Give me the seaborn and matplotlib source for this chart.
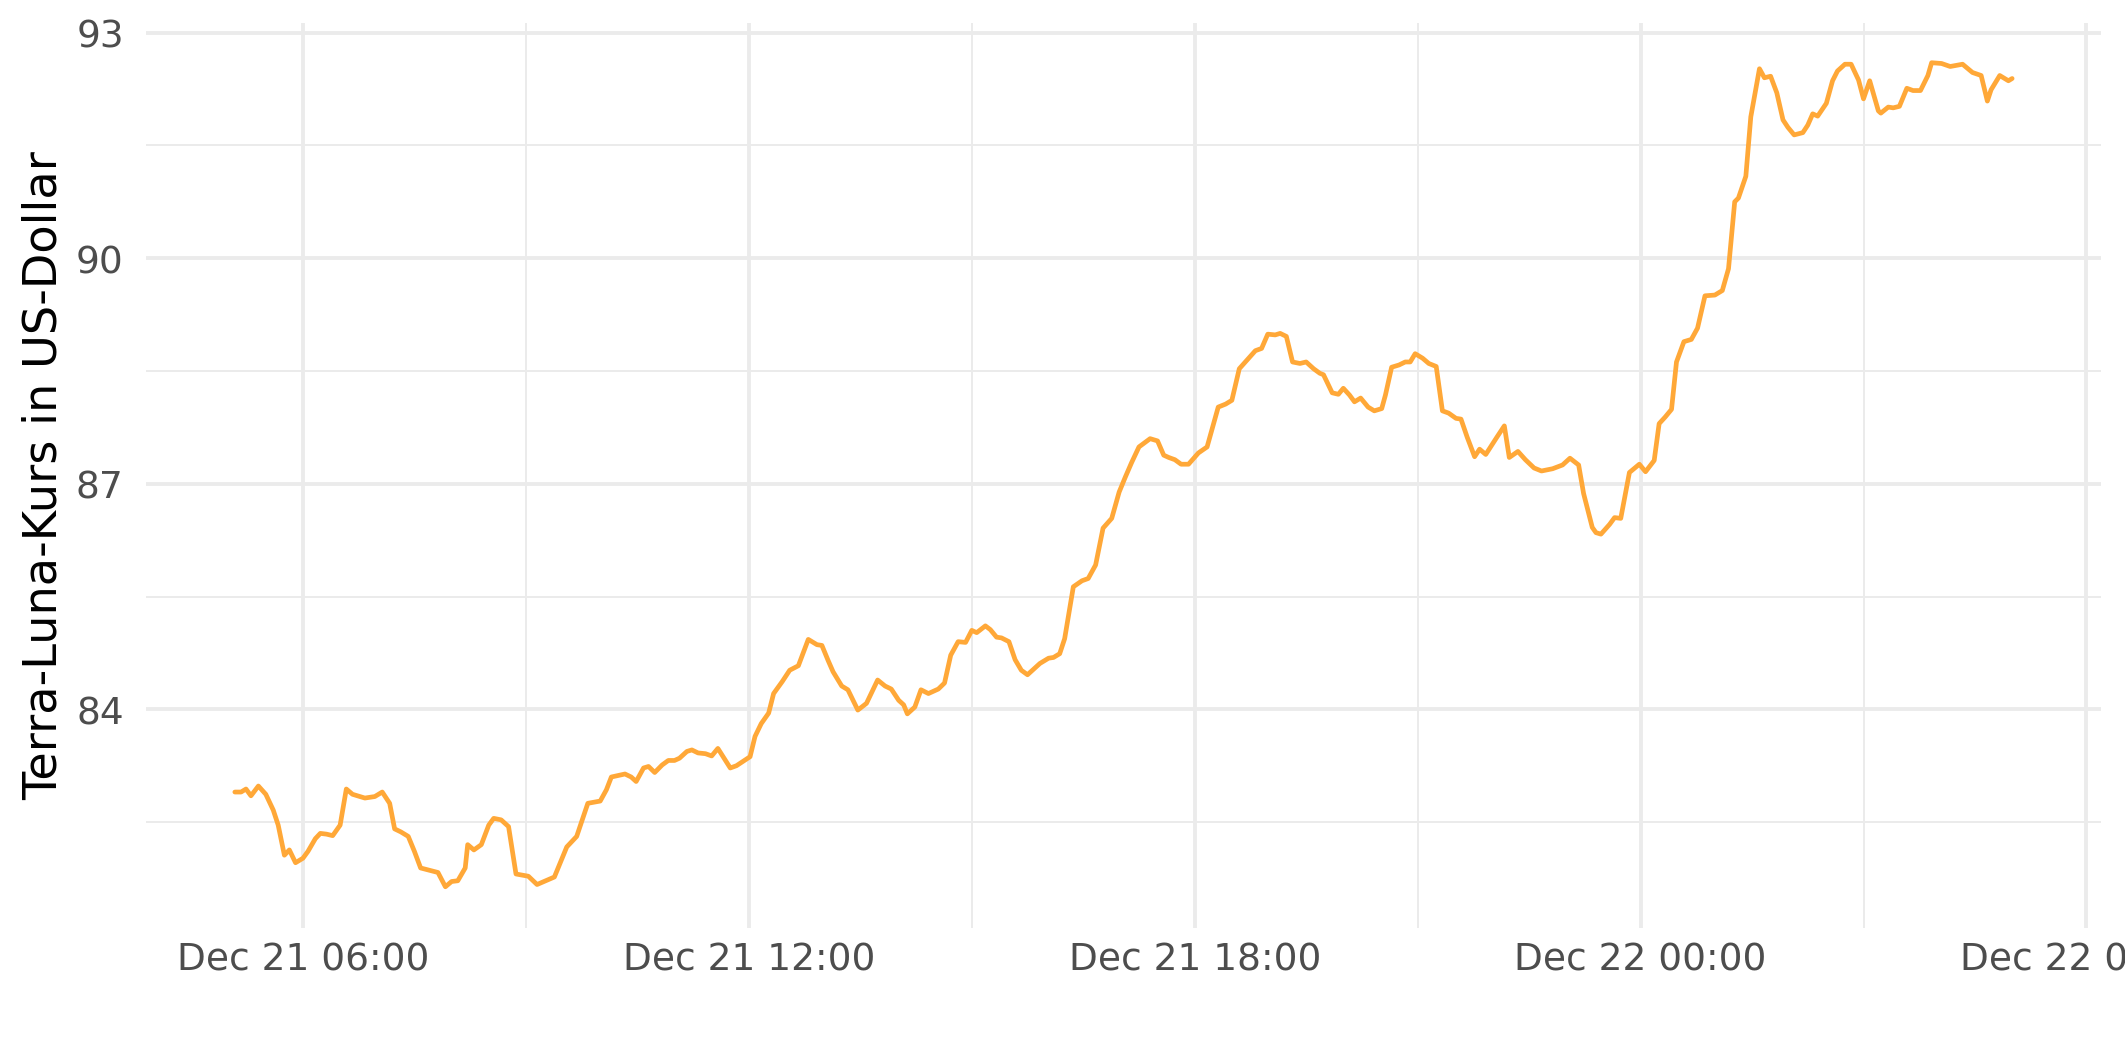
import pandas as pd
import numpy as np
import matplotlib
matplotlib.use("Agg")
import matplotlib.pyplot as plt
import matplotlib.dates as mdates
from matplotlib.ticker import MultipleLocator
import seaborn as sns

# Zeitpunkte (Dez 2021) und Terra-Luna-Kurs in USD
zeit = [
    "12-21 05:05", "12-21 05:10", "12-21 05:14", "12-21 05:18", "12-21 05:24", "12-21 05:30",
    "12-21 05:36", "12-21 05:40", "12-21 05:45", "12-21 05:49", "12-21 05:54", "12-21 06:00",
    "12-21 06:04", "12-21 06:10", "12-21 06:14", "12-21 06:19", "12-21 06:24", "12-21 06:30",
    "12-21 06:35", "12-21 06:40", "12-21 06:50", "12-21 06:58", "12-21 07:04", "12-21 07:10",
    "12-21 07:14", "12-21 07:19", "12-21 07:25", "12-21 07:30", "12-21 07:35", "12-21 07:49",
    "12-21 07:55", "12-21 08:00", "12-21 08:05", "12-21 08:11", "12-21 08:13", "12-21 08:18",
    "12-21 08:24", "12-21 08:30", "12-21 08:34", "12-21 08:40", "12-21 08:46", "12-21 08:52",
    "12-21 09:02", "12-21 09:09", "12-21 09:23", "12-21 09:33", "12-21 09:41", "12-21 09:50",
    "12-21 10:00", "12-21 10:05", "12-21 10:09", "12-21 10:20", "12-21 10:25", "12-21 10:29",
    "12-21 10:35", "12-21 10:39", "12-21 10:44", "12-21 10:50", "12-21 10:55", "12-21 11:00",
    "12-21 11:04", "12-21 11:10", "12-21 11:14", "12-21 11:19", "12-21 11:25", "12-21 11:30",
    "12-21 11:35", "12-21 11:45", "12-21 11:50", "12-21 12:01", "12-21 12:05", "12-21 12:10",
    "12-21 12:16", "12-21 12:20", "12-21 12:27", "12-21 12:33", "12-21 12:40", "12-21 12:48",
    "12-21 12:55", "12-21 12:59", "12-21 13:04", "12-21 13:08", "12-21 13:15", "12-21 13:20",
    "12-21 13:28", "12-21 13:35", "12-21 13:44", "12-21 13:50", "12-21 13:55", "12-21 14:01",
    "12-21 14:05", "12-21 14:08", "12-21 14:14", "12-21 14:19", "12-21 14:25", "12-21 14:33",
    "12-21 14:38", "12-21 14:43", "12-21 14:49", "12-21 14:55", "12-21 15:00", "12-21 15:04",
    "12-21 15:11", "12-21 15:15", "12-21 15:20", "12-21 15:24", "12-21 15:30", "12-21 15:35",
    "12-21 15:40", "12-21 15:45", "12-21 15:55", "12-21 16:02", "12-21 16:06", "12-21 16:11",
    "12-21 16:15", "12-21 16:22", "12-21 16:29", "12-21 16:34", "12-21 16:40", "12-21 16:46",
    "12-21 16:53", "12-21 16:59", "12-21 17:04", "12-21 17:09", "12-21 17:15", "12-21 17:24",
    "12-21 17:30", "12-21 17:35", "12-21 17:39", "12-21 17:44", "12-21 17:49", "12-21 17:55",
    "12-21 18:03", "12-21 18:10", "12-21 18:19", "12-21 18:25", "12-21 18:30", "12-21 18:36",
    "12-21 18:42", "12-21 18:49", "12-21 18:54", "12-21 18:59", "12-21 19:05", "12-21 19:09",
    "12-21 19:14", "12-21 19:19", "12-21 19:25", "12-21 19:30", "12-21 19:36", "12-21 19:41",
    "12-21 19:44", "12-21 19:51", "12-21 19:56", "12-21 20:00", "12-21 20:05", "12-21 20:09",
    "12-21 20:14", "12-21 20:20", "12-21 20:25", "12-21 20:31", "12-21 20:34", "12-21 20:39",
    "12-21 20:45", "12-21 20:50", "12-21 20:54", "12-21 20:58", "12-21 21:04", "12-21 21:09",
    "12-21 21:15", "12-21 21:20", "12-21 21:25", "12-21 21:31", "12-21 21:35", "12-21 21:40",
    "12-21 21:46", "12-21 21:50", "12-21 21:55", "12-21 22:04", "12-21 22:10", "12-21 22:14",
    "12-21 22:21", "12-21 22:27", "12-21 22:34", "12-21 22:40", "12-21 22:49", "12-21 22:57",
    "12-21 23:03", "12-21 23:10", "12-21 23:14", "12-21 23:21", "12-21 23:24", "12-21 23:28",
    "12-21 23:35", "12-21 23:39", "12-21 23:44", "12-21 23:51", "12-21 23:59", "12-22 00:04",
    "12-22 00:11", "12-22 00:15", "12-22 00:20", "12-22 00:25", "12-22 00:29", "12-22 00:35",
    "12-22 00:41", "12-22 00:46", "12-22 00:52", "12-22 01:00", "12-22 01:06", "12-22 01:11",
    "12-22 01:16", "12-22 01:19", "12-22 01:25", "12-22 01:29", "12-22 01:36", "12-22 01:40",
    "12-22 01:45", "12-22 01:50", "12-22 01:55", "12-22 01:59", "12-22 02:04", "12-22 02:11",
    "12-22 02:15", "12-22 02:19", "12-22 02:23", "12-22 02:30", "12-22 02:35", "12-22 02:39",
    "12-22 02:45", "12-22 02:50", "12-22 02:56", "12-22 03:00", "12-22 03:05", "12-22 03:12",
    "12-22 03:14", "12-22 03:20", "12-22 03:24", "12-22 03:29", "12-22 03:35", "12-22 03:40",
    "12-22 03:46", "12-22 03:52", "12-22 03:55", "12-22 04:03", "12-22 04:10", "12-22 04:20",
    "12-22 04:28", "12-22 04:35", "12-22 04:40", "12-22 04:43", "12-22 04:50", "12-22 04:57",
    "12-22 05:00",
]
kurs = [
    82.90, 82.90, 82.94, 82.85, 82.98, 82.87,
    82.66, 82.46, 82.06, 82.13, 81.96, 82.02,
    82.11, 82.28, 82.35, 82.34, 82.32, 82.46,
    82.94, 82.87, 82.82, 82.84, 82.90, 82.75,
    82.41, 82.37, 82.31, 82.11, 81.89, 81.83,
    81.64, 81.71, 81.72, 81.89, 82.20, 82.13,
    82.20, 82.46, 82.55, 82.53, 82.44, 81.81,
    81.78, 81.67, 81.77, 82.17, 82.31, 82.75,
    82.78, 82.93, 83.10, 83.14, 83.10, 83.04,
    83.22, 83.24, 83.16, 83.26, 83.32, 83.32,
    83.35, 83.44, 83.46, 83.42, 83.41, 83.38,
    83.48, 83.22, 83.25, 83.37, 83.64, 83.81,
    83.95, 84.21, 84.37, 84.52, 84.58, 84.93,
    84.86, 84.85, 84.65, 84.50, 84.31, 84.26,
    83.99, 84.08, 84.39, 84.31, 84.27, 84.12,
    84.06, 83.94, 84.03, 84.26, 84.21, 84.27,
    84.35, 84.72, 84.90, 84.89, 85.05, 85.02,
    85.11, 85.06, 84.96, 84.95, 84.90, 84.66,
    84.52, 84.46, 84.61, 84.68, 84.69, 84.74,
    84.94, 85.63, 85.71, 85.74, 85.92, 86.41,
    86.54, 86.89, 87.09, 87.28, 87.49, 87.60,
    87.57, 87.38, 87.35, 87.32, 87.26, 87.26,
    87.41, 87.49, 88.02, 88.06, 88.11, 88.53,
    88.64, 88.77, 88.80, 88.99, 88.98, 89.00,
    88.96, 88.62, 88.60, 88.62, 88.53, 88.47,
    88.45, 88.21, 88.19, 88.27, 88.18, 88.09,
    88.14, 88.02, 87.97, 88.00, 88.18, 88.55,
    88.58, 88.62, 88.62, 88.73, 88.67, 88.60,
    88.56, 87.97, 87.94, 87.87, 87.86, 87.62,
    87.36, 87.46, 87.39, 87.62, 87.77, 87.35,
    87.43, 87.32, 87.21, 87.17, 87.20, 87.25,
    87.34, 87.25, 86.87, 86.42, 86.35, 86.33,
    86.46, 86.55, 86.54, 87.15, 87.26, 87.16,
    87.31, 87.80, 87.89, 87.99, 88.62, 88.89,
    88.92, 89.07, 89.50, 89.51, 89.57, 89.86,
    90.75, 90.80, 91.09, 91.88, 92.52, 92.40,
    92.42, 92.20, 91.84, 91.74, 91.64, 91.67,
    91.77, 91.92, 91.89, 92.06, 92.36, 92.49,
    92.58, 92.58, 92.37, 92.12, 92.36, 91.96,
    91.93, 92.01, 92.00, 92.02, 92.26, 92.23,
    92.23, 92.43, 92.60, 92.59, 92.55, 92.58,
    92.47, 92.43, 92.09, 92.24, 92.43, 92.36,
    92.39,
]

df = pd.DataFrame({
    "zeit": pd.to_datetime(["2021-" + z for z in zeit], format="%Y-%m-%d %H:%M"),
    "kurs": kurs,
})

sns.set_theme(style="white")
plt.rcParams["font.family"] = ["DejaVu Sans"]

fig, ax = plt.subplots(figsize=(10, 5), dpi=212.5)
fig.subplots_adjust(left=0.0687, right=0.9887, top=0.978, bottom=0.126)

sns.lineplot(data=df, x="zeit", y="kurs", color="#FFA838", linewidth=1.6, ax=ax)

ax.set_ylim(81.09, 93.13)
ax.yaxis.set_major_locator(MultipleLocator(3))
ax.yaxis.set_minor_locator(MultipleLocator(1.5))
ax.xaxis.set_major_locator(mdates.HourLocator(byhour=[0, 6, 12, 18]))
ax.xaxis.set_minor_locator(mdates.HourLocator(byhour=[3, 9, 15, 21]))
ax.xaxis.set_major_formatter(mdates.DateFormatter("%b %d %H:%M"))

ax.grid(which="major", color="#EBEBEB", linewidth=1.3)
ax.grid(which="minor", color="#EBEBEB", linewidth=0.65)
ax.set_axisbelow(True)
for s in ax.spines.values():
    s.set_visible(False)

ax.tick_params(axis="both", which="both", length=0, labelsize=12.7, labelcolor="#4D4D4D")
ax.tick_params(axis="x", pad=4.5)
ax.tick_params(axis="y", pad=7.5)
ax.set_xlabel("")
ax.set_ylabel("Terra-Luna-Kurs in US-Dollar", fontsize=15.7, color="black", labelpad=3.3)

fig.savefig("out.png", dpi=212.5)
